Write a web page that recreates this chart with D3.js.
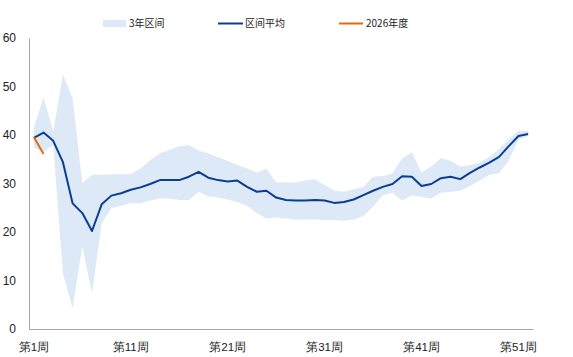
<!DOCTYPE html>
<html><head><meta charset="utf-8">
<script src="https://cdn.jsdelivr.net/npm/d3@7"></script>
<style>body{margin:0;background:#fff;}svg{display:block;font-family:"Noto Sans CJK SC","Noto Sans",sans-serif;}</style>
</head><body><svg id="c" width="573" height="357"></svg>
<script>
const weeks = d3.range(1,53).map(i=>"第"+i+"周");
const upper = [41.5,47.8,40.7,52.4,47.6,30.0,31.8,31.8,31.9,31.9,31.9,33.1,34.8,36.2,36.9,37.7,37.9,36.8,36.2,35.4,34.7,33.8,33.1,32.2,33.1,30.2,30.2,30.2,30.6,30.9,29.7,28.5,28.3,28.8,29.3,31.4,31.5,32.1,35.2,36.4,32.2,33.5,35.2,34.7,33.5,33.8,34.3,35.5,37.1,39.1,40.9,40.8];
const lower = [37.5,36.5,37.9,11.5,4.3,17.0,7.4,21.8,24.9,25.4,26.0,25.9,26.5,26.9,26.9,26.6,26.6,28.3,27.3,27.1,26.7,26.2,25.4,23.9,22.8,23.0,22.8,22.6,22.6,22.6,22.5,22.5,22.3,22.6,23.3,25.2,27.6,28.1,26.5,27.6,27.2,26.9,28.1,28.3,28.5,29.5,30.6,31.8,32.1,34.8,39.0,39.8];
const avg = [39.4,40.5,38.8,34.4,25.9,23.9,20.2,25.7,27.5,28.0,28.7,29.2,29.9,30.7,30.7,30.7,31.4,32.4,31.2,30.7,30.4,30.6,29.3,28.3,28.5,27.1,26.6,26.5,26.5,26.6,26.5,26.0,26.2,26.7,27.6,28.5,29.3,29.9,31.5,31.4,29.5,29.9,31.1,31.4,30.9,32.2,33.3,34.3,35.5,37.7,39.8,40.2];
const cur2026 = [39.6,36.1];
const yTicks = [0,10,20,30,40,50,60];
const xTickLabels = ["第1周","第11周","第21周","第31周","第41周","第51周"];
const legendLabels = ["3年区间","区间平均","2026年度"];

const svg = d3.select("#c");
const x = d3.scaleBand().domain(weeks).range([29,533]);
const cx = d => x(d)+x.bandwidth()/2;
const y = d3.scaleLinear().domain([0,60]).range([329,38]);

const band = weeks.map((w,i)=>({w,lo:lower[i],hi:upper[i]}));
svg.append("path").datum(band)
  .attr("fill","#dde9f6")
  .attr("d",d3.area().x(d=>cx(d.w)).y0(d=>y(d.lo)).y1(d=>y(d.hi)));

// axes
const yAxis = svg.append("g").attr("transform","translate(29,0)")
  .call(d3.axisLeft(y).tickValues(yTicks).tickSize(0).tickPadding(13));
yAxis.select(".domain").attr("stroke","#a6a6a6").attr("stroke-width",1);
yAxis.selectAll("text").attr("font-size",12).attr("fill","#222");

const xAxis = svg.append("g").attr("transform","translate(0,329)")
  .call(d3.axisBottom(x).tickValues(xTickLabels).tickSize(0).tickPadding(14).tickSizeOuter(0));
xAxis.select(".domain").attr("stroke","#a6a6a6").attr("stroke-width",1);
xAxis.selectAll("text").attr("font-size",11.5).attr("fill","#222");

svg.append("path").datum(weeks.map((w,i)=>({w,v:avg[i]})))
  .attr("fill","none").attr("stroke","#0a3e91").attr("stroke-width",2)
  .attr("stroke-linejoin","round")
  .attr("d",d3.line().x(d=>cx(d.w)).y(d=>y(d.v)));

svg.append("path").datum(cur2026.map((v,i)=>({w:weeks[i],v})))
  .attr("fill","none").attr("stroke","#e36c0a").attr("stroke-width",2)
  .attr("d",d3.line().x(d=>cx(d.w)).y(d=>y(d.v)));

// legend
const lg = svg.append("g").attr("font-size",10).attr("fill","#222");
const lx = [103,218,339];
lg.append("rect").attr("x",lx[0]).attr("y",20).attr("width",23).attr("height",7).attr("fill","#dde9f6");
lg.append("line").attr("x1",lx[1]).attr("x2",lx[1]+25).attr("y1",23.5).attr("y2",23.5).attr("stroke","#0a3e91").attr("stroke-width",2);
lg.append("line").attr("x1",lx[2]).attr("x2",lx[2]+24).attr("y1",23.5).attr("y2",23.5).attr("stroke","#e36c0a").attr("stroke-width",2);
legendLabels.forEach((t,i)=>{
  lg.append("text").attr("x",lx[i]+(i===0?26:27)).attr("y",27).text(t);
});
</script></body></html>
